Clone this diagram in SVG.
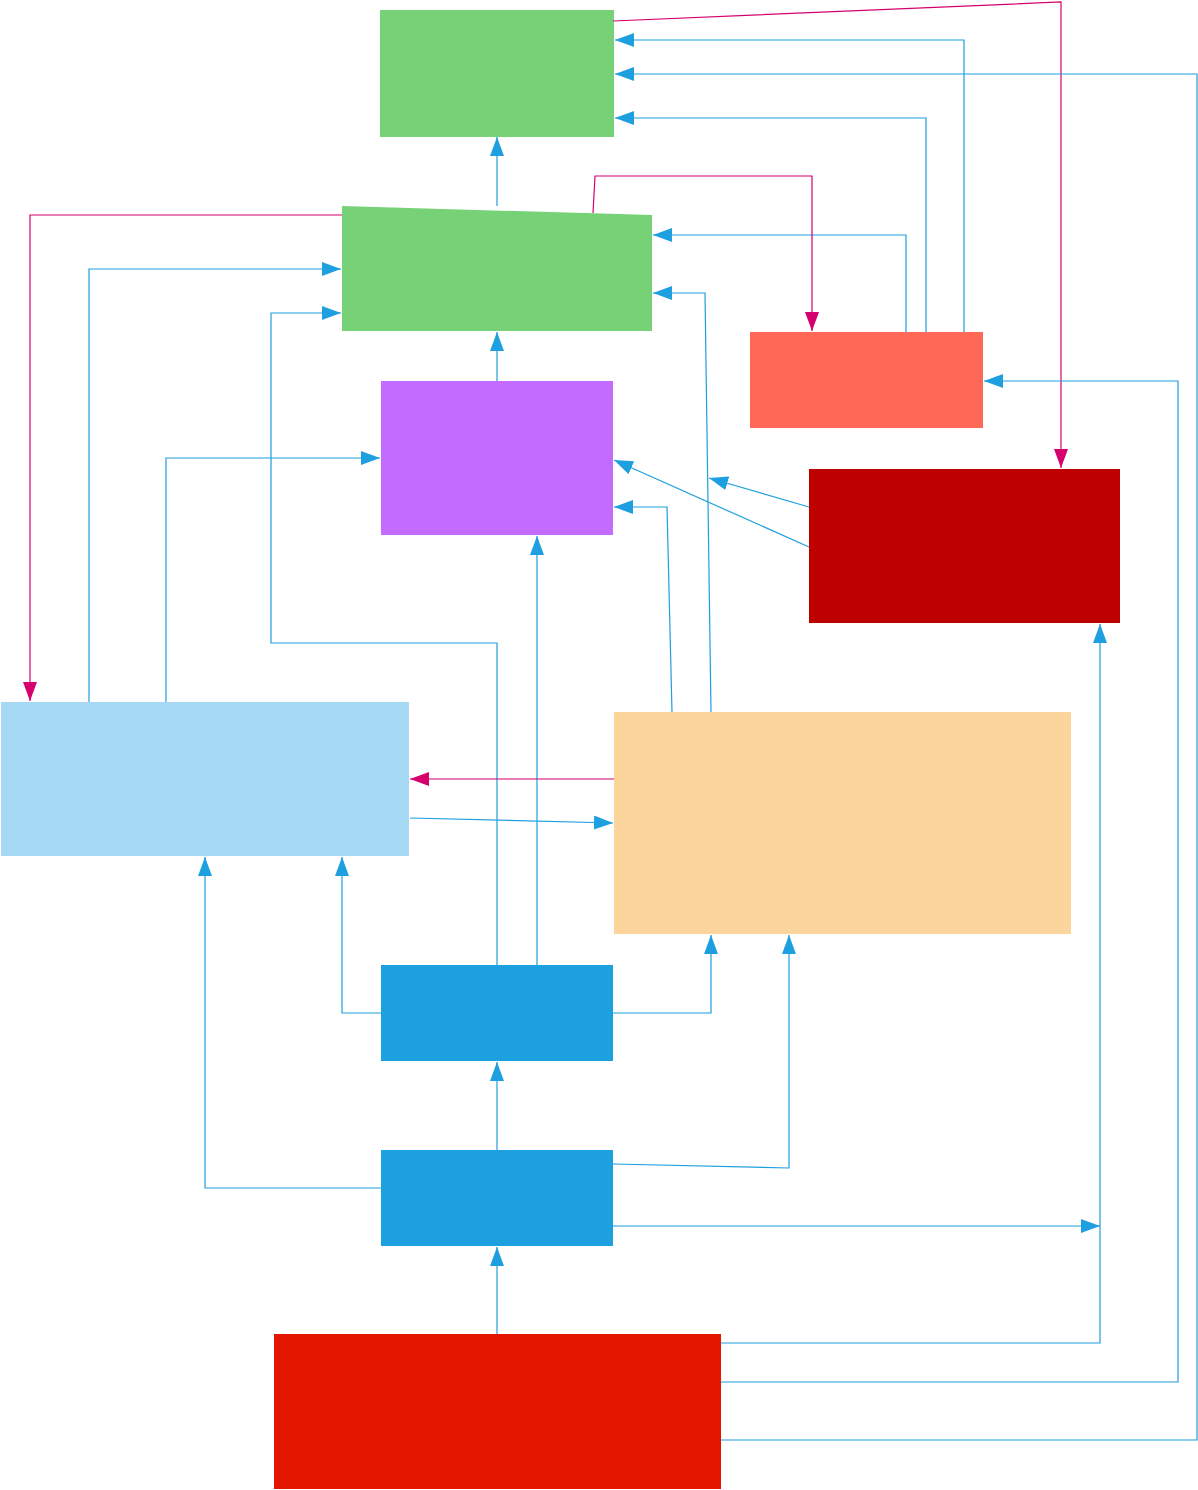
<svg xmlns="http://www.w3.org/2000/svg" width="1198" height="1490" viewBox="0 0 1198 1490">
<style>
.c{fill:none;stroke-width:1.2}
.b{stroke:#1e9fdf;}
.m{stroke:#d5006d;}
</style>
<defs>
<marker id="ab" markerUnits="userSpaceOnUse" markerWidth="20" markerHeight="14" refX="19" refY="7" orient="auto"><path d="M0,0 L19,7 L0,14 Z" fill="#1e9fdf"/></marker>
<marker id="am" markerUnits="userSpaceOnUse" markerWidth="20" markerHeight="14" refX="19" refY="7" orient="auto"><path d="M0,0 L19,7 L0,14 Z" fill="#d5006d"/></marker>
</defs>
<rect width="1198" height="1490" fill="#ffffff"/>
<g id="n1"><rect x="380" y="10" width="234" height="127" fill="#77d277"/></g>
<g id="n2"><polygon points="342,206 652,215 652,331 342,331" fill="#77d277"/></g>
<g id="n3"><rect x="381" y="381" width="232" height="154" fill="#c46bff"/></g>
<g id="n4"><rect x="750" y="332" width="233" height="96" fill="#ff6757"/></g>
<g id="n5"><rect x="809" y="469" width="311" height="154" fill="#bf0000"/></g>
<g id="n6"><rect x="1" y="702" width="408" height="154" fill="#a5d9f4"/></g>
<g id="n7"><rect x="614" y="712" width="457" height="222" fill="#fbd59b"/></g>
<g id="n8"><rect x="381" y="965" width="232" height="96" fill="#1da0e0"/></g>
<g id="n9"><rect x="381" y="1150" width="232" height="96" fill="#1da0e0"/></g>
<g id="n10"><rect x="274" y="1334" width="447" height="155" fill="#e41600"/></g>
<g id="connectors">
<path class="c b" d="M497,206 L497,137" marker-end="url(#ab)"/>
<path class="c m" d="M613,21 L1061,2 L1061,468" marker-end="url(#am)"/>
<path class="c b" d="M964,332 L964,40 L615,40" marker-end="url(#ab)"/>
<path class="c b" d="M926,332 L926,118 L615,118" marker-end="url(#ab)"/>
<path class="c b" d="M906,332 L906,235 L653,235" marker-end="url(#ab)"/>
<path class="c m" d="M593,213 L595,176 L812,176 L812,331" marker-end="url(#am)"/>
<path class="c b" d="M711,712 L705,293 L653,293" marker-end="url(#ab)"/>
<path class="c b" d="M497,381 L497,332" marker-end="url(#ab)"/>
<path class="c b" d="M809,507 L709,478" marker-end="url(#ab)"/>
<path class="c b" d="M809,547 L614,460" marker-end="url(#ab)"/>
<path class="c b" d="M672,712 L667,507 L614,507" marker-end="url(#ab)"/>
<path class="c m" d="M342,215 L30,215 L30,701" marker-end="url(#am)"/>
<path class="c b" d="M89,702 L89,269 L341,269" marker-end="url(#ab)"/>
<path class="c b" d="M166,702 L166,458 L380,458" marker-end="url(#ab)"/>
<path class="c b" d="M497,965 L497,643 L271,643 L271,313 L341,313" marker-end="url(#ab)"/>
<path class="c b" d="M537,965 L537,536" marker-end="url(#ab)"/>
<path class="c m" d="M614,779 L410,779" marker-end="url(#am)"/>
<path class="c b" d="M410,818 L613,823" marker-end="url(#ab)"/>
<path class="c b" d="M381,1013 L342,1013 L342,857" marker-end="url(#ab)"/>
<path class="c b" d="M613,1013 L711,1013 L711,935" marker-end="url(#ab)"/>
<path class="c b" d="M497,1150 L497,1062" marker-end="url(#ab)"/>
<path class="c b" d="M381,1188 L205,1188 L205,857" marker-end="url(#ab)"/>
<path class="c b" d="M613,1164 L789,1168 L789,935" marker-end="url(#ab)"/>
<path class="c b" d="M613,1226 L1100,1226" marker-end="url(#ab)"/>
<path class="c b" d="M497,1334 L497,1247" marker-end="url(#ab)"/>
<path class="c b" d="M721,1343 L1100,1343 L1100,624" marker-end="url(#ab)"/>
<path class="c b" d="M721,1382 L1178,1382 L1178,381 L984,381" marker-end="url(#ab)"/>
<path class="c b" d="M721,1440 L1197,1440 L1197,74 L615,74" marker-end="url(#ab)"/>
</g>
</svg>
